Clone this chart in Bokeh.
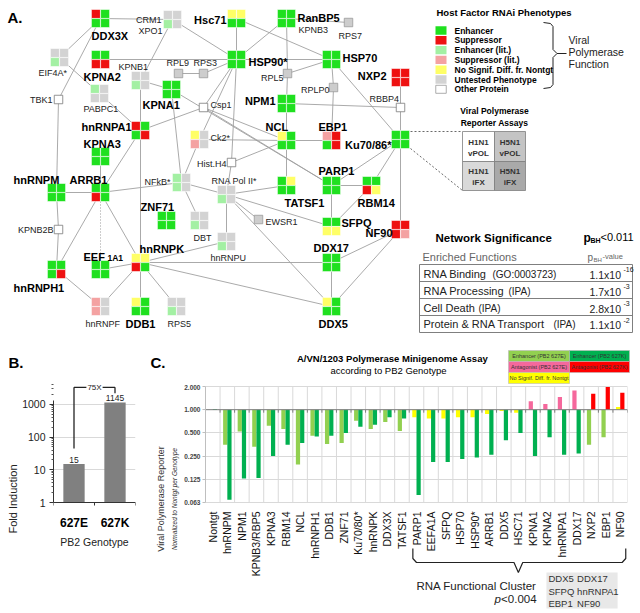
import math
from bokeh.plotting import figure
from bokeh.layouts import column, row
from bokeh.models import (Range1d, FactorRange, FixedTicker, LinearAxis, ColumnDataSource)
from bokeh.transform import dodge
from bokeh.core.properties import value
from bokeh.embed import file_html
from bokeh.resources import INLINE

FONT = "Liberation Sans"

# ================= DATA =================
# ---- Panel A: host factor network ----
PHENO_LABELS = ["Enhancer", "Suppressor", "Enhancer (lit.)", "Suppressor (lit.)",
                "No Signif. Diff. fr. Nontgt", "Untested  Phenotype", "Other Protein"]
PHENO_CODES = ["E", "S", "e", "s", "N", "U", "O"]
PHENO_COLORS = ["#1fe01f", "#ee1111", "#a3f0a3", "#f4a2a2", "#ffff66", "#d3d3d3", "#ffffff"]

NODE_NAMES = ["DDX3X", "CRM1", "Hsc71", "RanBP5", "EIF4A*", "KPNA2", "HSP90*", "HSP70", "NXP2", "KPNB1",
              "PABPC1", "KPNA1", "NPM1", "hnRNPA1", "Ck2*", "NCL", "EBP1", "Ku70/86*", "KPNA3", "hnRNPM",
              "ARRB1", "NFkB*", "RNA Pol II*", "TATSF1", "PARP1", "RBM14", "ZNF71", "DBT", "SFPQ", "NF90",
              "hnRNPU", "DDX17", "EEF1A1", "hnRNPK", "hnRNPH1", "hnRNPF", "DDB1", "RPS5", "DDX5"]
NODE_X = [100, 172, 236, 286, 59, 100, 236, 331, 400, 140,
          99, 171, 286, 140, 199, 286, 331, 400, 100, 56,
          100, 181, 226, 286, 331, 371, 166, 199, 331, 400,
          226, 331, 100, 140, 56, 100, 140, 176, 331]
NODE_Y = [18, 19, 18, 18, 57, 59, 59, 59, 77, 80,
          93, 89, 103, 130, 139, 140, 140, 139, 156, 192,
          192, 182, 194, 185, 185, 185, 220, 220, 226, 229,
          241, 262, 269, 262, 269, 306, 306, 306, 306]
# phenotype of the 4 assays (TL, TR, BL, BR)
NODE_CELLS = ["SEEE", "UUeU", "NNEE", "EEEE", "UUeU", "EESS", "EEEE", "EEEE", "SSSS", "UUeU",
              "eUUU", "EEEE", "EEEE", "SEES", "NUsU", "NEEE", "sSES", "EEEE", "EEEE", "EEEE",
              "EESE", "eUeU", "UUeU", "ENEE", "EEEE", "EESN", "EEEE", "UUeU", "EENN", "SSSs",
              "UUeU", "EEEE", "EEEE", "NNSE", "EEES", "sUsU", "NEEE", "UUeU", "NEEE"]

SMALL_NAMES = ["RPL9", "RPS3", "RPS7", "RPL5", "RPLP0", "EWSR1"]
SMALL_X = [178, 203, 348, 287, 333, 258]
SMALL_Y = [73, 73, 22, 73, 87, 219]

OTHER_NAMES = ["TBK1", "Csp1", "RBBP4", "Hist.H4", "KPNB2B"]
OTHER_X = [58, 203, 400, 231, 58]
OTHER_Y = [99, 107, 107, 162, 229]

EDGES = [
    ("DDX3X", "CRM1"), ("DDX3X", "EIF4A*"), ("DDX3X", "TBK1"),
    ("CRM1", "KPNB1"), ("CRM1", "HSP90*"), ("KPNA2", "HSP90*"),
    ("Hsc71", "HSP90*"), ("Hsc71", "HSP70"), ("RanBP5", "HSP90*"), ("RanBP5", "RPS7"),
    ("RanBP5", "RPL5"), ("RPL5", "NPM1"), ("NPM1", "NCL"), ("NCL", "TATSF1"),
    ("RPL5", "HSP70"), ("HSP90*", "HSP70"), ("HSP70", "RPLP0"), ("RPLP0", "EBP1"),
    ("HSP70", "Ku70/86*"), ("NXP2", "RBBP4"), ("RBBP4", "Ku70/86*"), ("NPM1", "RBBP4"),
    ("NCL", "EBP1"), ("HSP90*", "Hist.H4"), ("Hist.H4", "RNA Pol II*"), ("HSP90*", "Csp1"),
    ("RPS3", "HSP90*"), ("RPL9", "RPS3"), ("HSP90*", "Ck2*"),
    ("EIF4A*", "PABPC1"), ("PABPC1", "hnRNPA1"), ("KPNB1", "KPNA1"), ("KPNB1", "hnRNPA1"),
    ("hnRNPA1", "hnRNPK"), ("KPNA1", "PARP1"), ("KPNA1", "NFkB*"), ("hnRNPA1", "Csp1"),
    ("Csp1", "NCL"), ("Csp1", "PARP1"), ("Ck2*", "NCL"), ("Hist.H4", "NCL"),
    ("Ku70/86*", "PARP1"), ("Ku70/86*", "RBM14"), ("Ku70/86*", "NF90"),
    ("PARP1", "RBM14"), ("PARP1", "SFPQ"), ("RBM14", "SFPQ"),
    ("NF90", "DDX17"), ("NF90", "DDX5"), ("DDX17", "DDX5"),
    ("RNA Pol II*", "TATSF1"), ("RNA Pol II*", "SFPQ"), ("RNA Pol II*", "EWSR1"),
    ("RNA Pol II*", "hnRNPU"), ("RNA Pol II*", "DDX5"), ("NFkB*", "RNA Pol II*"),
    ("hnRNPU", "hnRNPK"), ("hnRNPK", "DDX17"), ("hnRNPK", "DDX5"), ("EEF1A1", "hnRNPK"),
    ("hnRNPK", "DDB1"), ("hnRNPK", "RPS5"), ("hnRNPK", "hnRNPF"), ("hnRNPH1", "hnRNPF"),
    ("hnRNPH1", "ARRB1"), ("TBK1", "hnRNPM"), ("hnRNPM", "KPNB2B"), ("KPNB2B", "hnRNPH1"),
    ("hnRNPM", "ARRB1"), ("ARRB1", "NFkB*"), ("ARRB1", "KPNA3"), ("ARRB1", "hnRNPK"),
    ("ARRB1", "hnRNPA1"), ("NFkB*", "DBT"), ("NFkB*", "Ck2*"),
]
DOTTED_EDGES = [("ARRB1", "EEF1A1")]

ENRICHED = ["RNA Binding", "RNA Processing", "Cell Death", "Protein & RNA Transport"]
ENRICHED_SRC = ["(GO:0003723)", "(IPA)", "(IPA)", "(IPA)"]
ENRICHED_MANT = ["1.1x10", "1.7x10", "2.8x10", "1.1x10"]
ENRICHED_EXP = ["-16", "-3", "-3", "-2"]

# ---- Panel B ----
GENOTYPES = ["627E", "627K"]
FOLD = [15, 1145]
B_TICKS = [1, 10, 100, 1000]

# ---- Panel C ----
CATS = ["Nontgt", "hnRNPM", "NPM1", "KPNB3/RBP5", "KPNA3", "RBM14", "NCL", "hnRNPH1", "DDB1",
        "ZNF71", "Ku70/80*", "hnRNPK", "DDX3X", "TATSF1", "PARP1", "EEFA1A", "SFPQ", "HSP70",
        "HSP90*", "ARRB1", "DDX5", "HSC71", "KPNA1", "KPNA2", "hnRNPA1", "DDX17", "NXP2", "EBP1", "NF90"]
VAL_627E = [1.0, 0.35, 0.52, 0.33, 0.62, 0.56, 0.195, 0.46, 0.36, 0.37, 0.72, 0.56, 0.69, 0.53,
            0.80, 0.77, 0.77, 0.80, 0.80, 0.88, 0.96, 0.91, 1.29, 1.19, 1.46, 1.78, 0.35, 0.44, 1.08]
VAL_627K = [1.02, 0.068, 0.128, 0.13, 0.25, 0.35, 0.37, 0.45, 0.46, 0.50, 0.60, 0.64, 0.80, 0.77,
            0.078, 0.21, 0.21, 0.23, 0.24, 0.26, 0.40, 0.50, 0.25, 0.44, 0.26, 0.27, 1.61, 1.97, 1.66]
CLASS_627E = ["enh"] * 14 + ["ns"] * 8 + ["ant"] * 4 + ["enh", "enh", "ns"]
CLASS_627K = ["enh"] * 26 + ["ant"] * 3
C_TICKS = [0.0625, 0.125, 0.25, 0.5, 1.0, 2.0]
C_TICK_LABELS = ["0.063", "0.125", "0.250", "0.500", "1.000", "2.000"]
CLUSTER = ["DDX5", "DDX17", "SFPQ", "hnRNPA1", "EBP1", "NF90"]

COL_E = {"enh": "#92d050", "ns": "#ffff00", "ant": "#f5689c"}
COL_K = {"enh": "#00b050", "ns": "#ffff00", "ant": "#ff0000"}


def T(p, x, y, text, size, align="left", style="normal", color="#000000",
      baseline="middle", **kw):
    xs = x if isinstance(x, list) else [x]
    ys = y if isinstance(y, list) else [y]
    ts = text if isinstance(text, list) else [text]
    p.text(x=xs, y=ys, text=ts, text_font=value(FONT), text_font_size=f"{size}px",
           text_font_style=style, text_align=align, text_baseline=baseline,
           text_color=color, **kw)


W, H = 640, 613
TOP_H = 384
BOT_H = H - TOP_H

# ================= PANEL A (canvas) =================
pA = figure(width=W, height=TOP_H, x_range=Range1d(0, W), y_range=Range1d(TOP_H, 0),
            output_backend="svg", toolbar_location=None, x_axis_location=None,
            y_axis_location=None, min_border=0, outline_line_color=None)
pA.grid.visible = False

pcol = dict(zip(PHENO_CODES, PHENO_COLORS))
pos = {}
for n_, x, y in zip(NODE_NAMES, NODE_X, NODE_Y):
    pos[n_] = (x, y)
for n_, x, y in zip(SMALL_NAMES, SMALL_X, SMALL_Y):
    pos[n_] = (x, y)
for n_, x, y in zip(OTHER_NAMES, OTHER_X, OTHER_Y):
    pos[n_] = (x, y)

pA.segment(x0=[pos[a][0] for a, b in EDGES], y0=[pos[a][1] for a, b in EDGES],
           x1=[pos[b][0] for a, b in EDGES], y1=[pos[b][1] for a, b in EDGES],
           line_color="#a0a0a0", line_width=0.9)
pA.segment(x0=[pos[a][0] for a, b in DOTTED_EDGES], y0=[pos[a][1] for a, b in DOTTED_EDGES],
           x1=[pos[b][0] for a, b in DOTTED_EDGES], y1=[pos[b][1] for a, b in DOTTED_EDGES],
           line_color="#909090", line_width=0.9, line_dash="1 2")

# connectors from Ku70/86 to assay key
pA.segment(x0=[410, 410], y0=[131, 148], x1=[462, 462], y1=[131, 190],
           line_color="#444444", line_width=0.8, line_dash="2 2")

cx, cy, cc = [], [], []
for n_, x, y, cells in zip(NODE_NAMES, NODE_X, NODE_Y, NODE_CELLS):
    for k, (dx, dy) in enumerate([(-1, -1), (1, -1), (-1, 1), (1, 1)]):
        cx.append(x + dx * 4.6)
        cy.append(y + dy * 4.6)
        cc.append(pcol[cells[k]])
pA.rect(x=cx, y=cy, width=9.0, height=9.0, fill_color=cc, line_color="white", line_width=0.6)
pA.rect(x=SMALL_X, y=SMALL_Y, width=8.5, height=8.5, fill_color="#cdcdcd",
        line_color="#9a9a9a", line_width=0.8)
pA.rect(x=OTHER_X, y=OTHER_Y, width=8.5, height=8.5, fill_color="#ffffff",
        line_color="#7a7a7a", line_width=0.8)

BIG_LABELS = [
    ("DDX3X", 91, 35, "left"), ("Hsc71", 226, 19, "right"), ("RanBP5", 297, 17, "left"),
    ("HSP90*", 248, 61, "left"), ("HSP70", 342, 57, "left"), ("KPNA2", 83, 76, "left"),
    ("NXP2", 386, 75, "right"), ("KPNA1", 142, 104, "left"), ("NPM1", 275, 100, "right"),
    ("hnRNPA1", 131, 126, "right"), ("NCL", 265, 126, "left"), ("EBP1", 318, 126, "left"),
    ("Ku70/86*", 391, 144, "right"), ("KPNA3", 83, 143, "left"), ("hnRNPM", 13, 179, "left"),
    ("ARRB1", 69, 179, "left"), ("PARP1", 318, 170, "left"), ("TATSF1", 284, 202, "left"),
    ("RBM14", 357, 202, "left"), ("ZNF71", 140, 206, "left"), ("SFPQ", 341, 222, "left"),
    ("NF90", 392, 232, "right"), ("DDX17", 313, 247, "left"), ("hnRNPK", 139, 248, "left"),
    ("EEF", 83, 256, "left"), ("hnRNPH1", 13, 287, "left"), ("DDB1", 125, 323, "left"),
    ("DDX5", 318, 323, "left"),
]
SMALL_LABELS = [
    ("CRM1", 161, 19, "right"), ("XPO1", 162, 30, "right"), ("KPNB3", 298, 29, "left"),
    ("RPS7", 338, 35, "left"), ("EIF4A*", 38, 72, "left"), ("KPNB1", 118, 66, "left"),
    ("RPL9", 166, 62, "left"), ("RPS3", 193, 62, "left"), ("RPL5", 283, 77, "right"),
    ("RPLP0", 329, 89, "right"), ("TBK1", 52, 99, "right"), ("PABPC1", 83, 108, "left"),
    ("Csp1", 210, 104, "left"), ("RBBP4", 369, 98, "left"), ("Ck2*", 210, 137, "left"),
    ("Hist.H4", 226, 163, "right"), ("NFkB*", 170, 181, "right"), ("RNA  Pol II*", 211, 180, "left"),
    ("EWSR1", 265, 221, "left"), ("DBT", 193, 237, "left"), ("KPNB2B", 53, 229, "right"),
    ("hnRNPU", 210, 257, "left"), ("hnRNPF", 85, 323, "left"), ("RPS5", 167, 323, "left"),
]
for al in ("left", "right"):
    b = [l for l in BIG_LABELS if l[3] == al]
    T(pA, [l[1] for l in b], [l[2] for l in b], [l[0] for l in b], 11, align=al, style="bold")
    s = [l for l in SMALL_LABELS if l[3] == al]
    T(pA, [l[1] for l in s], [l[2] for l in s], [l[0] for l in s], 9, align=al, color="#222222")
T(pA, 107, 257, "1A1", 8.5, style="bold")
T(pA, 7, 17, "A.", 15, style="bold")

# phenotype legend
T(pA, 436, 12, "Host Factor RNAi Phenotypes", 9.5, style="bold")
ly = [30 + i * 9.8 for i in range(len(PHENO_LABELS))]
pA.rect(x=[440.5] * 6, y=ly[:6], width=11, height=8.4, fill_color=PHENO_COLORS[:6], line_color=None)
pA.rect(x=[440.5], y=[ly[6]], width=10.5, height=8, fill_color="white", line_color="#999999",
        line_width=0.8)
T(pA, [454] * 7, ly, PHENO_LABELS, 8.5, style="bold")
pA.line(x=[543, 550, 552.5, 552.5, 556.5, 552.5, 552.5, 550, 543],
        y=[22, 23, 26, 49, 53, 57, 84, 87, 88], line_color="#222222", line_width=1)
pA.segment(x0=[556.5], y0=[53], x1=[566], y1=[53], line_color="#222222", line_width=1)
T(pA, [568, 568, 568], [39, 51, 63], ["Viral", "Polymerase", "Function"], 10.5, color="#222222")

# assay key
T(pA, [494, 494], [110, 122], ["Viral Polymerase", "Reporter Assays"], 8.5, align="center",
  style="bold")
pA.quad(left=[462, 494, 462, 494], right=[494, 525, 494, 525], top=[131, 131, 161, 161],
        bottom=[161, 161, 190, 190], fill_color=["#ffffff", "#c4c4c4", "#d9d9d9", "#a9a9a9"],
        line_color="#7f7f7f", line_width=0.8)
T(pA, [478, 509.5, 478, 509.5], [142, 142, 171, 171], ["H1N1", "H5N1", "H1N1", "H5N1"], 8,
  align="center", style="bold", color="#333333")
T(pA, [478, 509.5, 478, 509.5], [153, 153, 182, 182], ["vPOL", "vPOL", "iFX", "iFX"], 8,
  align="center", style="bold", color="#333333")

# network significance
T(pA, 435, 237, "Network Significance", 11.5, style="bold")
T(pA, 583, 237, "p", 12, style="bold")
T(pA, 590, 240, "BH", 7, style="bold")
T(pA, 600, 236, "<0.011", 11)
T(pA, 422, 256, "Enriched Functions", 11, color="#666666")
T(pA, 587, 257, "p", 10, color="#666666")
T(pA, 593, 259, "BH", 6, color="#666666")
T(pA, 602, 256, "-value", 7.5, color="#666666")
pA.quad(left=[419], right=[632], top=[264], bottom=[332], fill_color=None,
        line_color="#7f7f7f", line_width=1)
pA.segment(x0=[419] * 3, x1=[632] * 3, y0=[281, 298, 315], y1=[281, 298, 315],
           line_color="#7f7f7f", line_width=1)
row_y = [273, 290, 307, 323.5]
src_x = [492, 508, 478, 553]
T(pA, [423] * 4, row_y, ENRICHED, 11, color="#222222")
T(pA, src_x, [r + 0.5 for r in row_y], ENRICHED_SRC, 10, color="#222222")
T(pA, [589] * 4, [r + 1 for r in row_y], ENRICHED_MANT, 10.5, color="#222222")
T(pA, [623] * 4, [r - 4 for r in row_y], ENRICHED_EXP, 7, color="#222222")

# panel labels for lower row
T(pA, 8, 362, "B.", 15, style="bold")
T(pA, 150, 362, "C.", 15, style="bold")

# panel C title + legend
T(pA, 392, 358, "A/VN/1203 Polymerase Minigenome Assay", 9.5, align="center", style="bold")
T(pA, 388, 370, "according to PB2 Genotype", 9.5, align="center")
pA.quad(left=[508, 569, 508, 569, 508], right=[569, 629, 569, 629, 569],
        top=[350, 350, 361, 361, 372], bottom=[361, 361, 372, 372, 383],
        fill_color=[COL_E["enh"], COL_K["enh"], COL_E["ant"], COL_K["ant"], COL_E["ns"]],
        line_color="#bbbbbb", line_width=0.6)
T(pA, [538.5, 599, 538.5, 599, 538.5], [355.5, 355.5, 366.5, 366.5, 377.5],
  ["Enhancer (PB2 627E)", "Enhancer (PB2 627K)", "Antagonist (PB2 627E)",
   "Antagonist (PB2 627K)", "No Signif. Diff. fr. Nontgt"], 5.5, align="center",
  color="#333333")

# ================= PANEL B =================
PX_PER_DECADE = 32.7
B_BASE_Y = 502  # page y of value 1


def lyb(page_y):
    return 10 ** ((B_BASE_Y - page_y) / PX_PER_DECADE)


pB = figure(width=152, height=BOT_H, x_range=FactorRange(*GENOTYPES),
            y_range=Range1d(lyb(H), lyb(TOP_H)), y_axis_type="log", x_axis_location=None,
            output_backend="svg", toolbar_location=None, min_border_left=53,
            min_border_right=17, min_border_top=0, min_border_bottom=0,
            outline_line_color=None)
b_ticker = FixedTicker(ticks=B_TICKS,
                       minor_ticks=[m * d for d in B_TICKS for m in range(2, 10)])
yb = pB.yaxis[0]
yb.ticker = b_ticker
yb.bounds = (1, 1320)
yb.major_label_overrides = {t: str(t) for t in B_TICKS}
yb.major_label_text_font = FONT
yb.major_label_text_font_size = "10.5px"
yb.major_label_text_color = "#222222"
yb.major_label_standoff = 4
yb.major_tick_out = 4
yb.major_tick_in = 0
yb.minor_tick_out = 2
yb.minor_tick_in = 0
yb.axis_line_color = "#333333"
yb.major_tick_line_color = "#333333"
yb.minor_tick_line_color = "#555555"
yb.axis_label = "Fold Induction"
yb.axis_label_text_font = FONT
yb.axis_label_text_font_size = "11px"
yb.axis_label_text_font_style = "normal"
yb.axis_label_text_color = "#222222"
yb.axis_label_standoff = 0
pB.ygrid.ticker = b_ticker
pB.ygrid.grid_line_color = "#d9d9d9"
pB.xgrid.visible = False

nb = len(GENOTYPES)
pB.vbar(x=GENOTYPES, top=FOLD, bottom=1, width=0.52, fill_color="#808080", line_color=None)
# category axis line with boundary ticks
pB.segment(x0=[0.0], x1=[float(nb)], y0=[1], y1=[1], line_color="#333333", line_width=1)
pB.segment(x0=[float(i) for i in range(nb + 1)], x1=[float(i) for i in range(nb + 1)],
           y0=[1] * (nb + 1), y1=[lyb(B_BASE_Y + 3)] * (nb + 1), line_color="#333333",
           line_width=1)
T(pB, GENOTYPES, [lyb(522)] * nb, GENOTYPES, 12, align="center", style="bold")
T(pB, nb / 2, lyb(541), "PB2 Genotype", 10.5, align="center", color="#222222")

T(pB, GENOTYPES, FOLD, [str(v) for v in FOLD], 8.5, align="center", baseline="bottom",
  color="#222222", y_offset=-1)
top_lvl = FOLD[1] * 2.9
pB.segment(x0=[GENOTYPES[0], GENOTYPES[1], GENOTYPES[0]],
           y0=[FOLD[0] * 3, FOLD[1] * 1.9, top_lvl],
           x1=[GENOTYPES[0], GENOTYPES[1], GENOTYPES[1]],
           y1=[top_lvl, top_lvl, top_lvl], line_color="#222222", line_width=1.3)
T(pB, nb / 2, top_lvl, "75X", 8, align="center", color="#222222",
  background_fill_color="white", padding=1)

# ================= PANEL C =================
n = len(CATS)
PX_PER_DOUBLING = 23.2
C_BASE_Y = 502  # page y of 0.0625


def ly_(page_y):
    return 0.0625 * 2 ** ((C_BASE_Y - page_y) / PX_PER_DOUBLING)


pC = figure(width=W - 152, height=BOT_H, x_range=FactorRange(*CATS),
            y_range=Range1d(ly_(H), ly_(TOP_H)),
            y_axis_type="log", x_axis_location=None, output_backend="svg",
            toolbar_location=None, min_border_left=48, min_border_right=13,
            min_border_top=0, min_border_bottom=0, outline_line_color=None)

c_ticker = FixedTicker(ticks=C_TICKS, minor_ticks=[])
yc = pC.yaxis[0]
yc.ticker = c_ticker
yc.bounds = (C_TICKS[0], C_TICKS[-1])
yc.major_label_overrides = dict(zip(C_TICKS, C_TICK_LABELS))
yc.major_label_text_font = FONT
yc.major_label_text_font_size = "6.5px"
yc.major_label_text_font_style = "bold"
yc.major_label_text_color = "#444444"
yc.major_label_standoff = 2
yc.major_tick_out = 3
yc.major_tick_in = 0
yc.minor_tick_line_color = None
yc.axis_line_color = "#bfbfbf"
yc.major_tick_line_color = "#bfbfbf"
pC.ygrid.ticker = c_ticker
pC.ygrid.grid_line_color = "#d9d9d9"
pC.xgrid.visible = False

for lab, size, style, standoff in (("Normalized to Nontgt per Genotype", "6.5px", "italic", 4),
                                   ("Viral Polymerase Reporter", "9px", "normal", 2)):
    ax = LinearAxis(ticker=FixedTicker(ticks=[]), axis_line_color=None,
                    major_tick_line_color=None, minor_tick_line_color=None,
                    major_tick_out=0, major_tick_in=0, minor_tick_out=0, minor_tick_in=0,
                    major_label_standoff=0, axis_label=lab, axis_label_standoff=standoff,
                    axis_label_text_font=FONT, axis_label_text_font_size=size,
                    axis_label_text_font_style=style, axis_label_text_color="#333333",
                    bounds=(C_TICKS[0], C_TICKS[-1]))
    pC.add_layout(ax, "left")

# numeric x on the factor range = synthetic category coordinate (category i spans i..i+1)
bnd = [float(i) for i in range(n + 1)]
pC.segment(x0=bnd, x1=bnd, y0=[C_TICKS[0]] * (n + 1), y1=[C_TICKS[-1]] * (n + 1),
           line_color="#d9d9d9", line_width=1)

src = ColumnDataSource(dict(cat=CATS, e=VAL_627E, k=VAL_627K,
                            ce=[COL_E[c] for c in CLASS_627E],
                            ck=[COL_K[c] for c in CLASS_627K]))
pC.vbar(x=dodge("cat", -0.145, range=pC.x_range), top="e", bottom=1.0, width=0.29,
        fill_color="ce", line_color=None, source=src)
pC.vbar(x=dodge("cat", 0.145, range=pC.x_range), top="k", bottom=1.0, width=0.29,
        fill_color="ck", line_color=None, source=src)

# baseline at 1.0 with boundary ticks
pC.segment(x0=[0.0], x1=[float(n)], y0=[1.0], y1=[1.0], line_color="#7f7f7f", line_width=1)
pC.segment(x0=bnd, x1=bnd, y0=[1.0] * (n + 1), y1=[1.0 / 2 ** (3 / PX_PER_DOUBLING)] * (n + 1),
           line_color="#7f7f7f", line_width=1)

cw = 427 / n


def ix(page_x):
    return (page_x - 200) / cw


# category labels (rotated)
pC.text(x=CATS, y=[ly_(511)] * n, text=CATS, angle=math.pi / 2,
        text_font=value(FONT), text_font_size="10.5px", text_align="right",
        text_baseline="middle", text_color="#111111")

# brace for RNA functional cluster
i0 = CATS.index("PARP1") + 0.25
i1 = n - 0.12
im = (CATS.index("PARP1") + n) / 2
pC.line(x=[i0, i0, i0 + 0.25, im - 0.3, im, im + 0.3, i1 - 0.25, i1, i1],
        y=[ly_(548), ly_(558), ly_(562), ly_(562), ly_(572), ly_(562), ly_(562),
           ly_(558), ly_(548)], line_color="#222222", line_width=1.2)
T(pC, ix(535), ly_(585), "RNA Functional Cluster", 11.5, align="right", color="#222222")
T(pC, ix(535), ly_(598), "<0.004", 11.5, align="right", color="#222222")
T(pC, ix(499), ly_(598), "p", 11.5, align="right", style="italic", color="#222222")
pC.quad(left=[ix(545)], right=[ix(617)], top=[ly_(572)], bottom=[ly_(608)],
        fill_color="#e8e8e8", line_color=None)
T(pC, [ix(547), ix(576)] * 3,
  [ly_(578), ly_(578), ly_(590.5), ly_(590.5), ly_(603), ly_(603)],
  CLUSTER, 9.5, color="#333333")

layout = column(pA, row(pB, pC))
open("out.html", "w").write(file_html(layout, INLINE))
